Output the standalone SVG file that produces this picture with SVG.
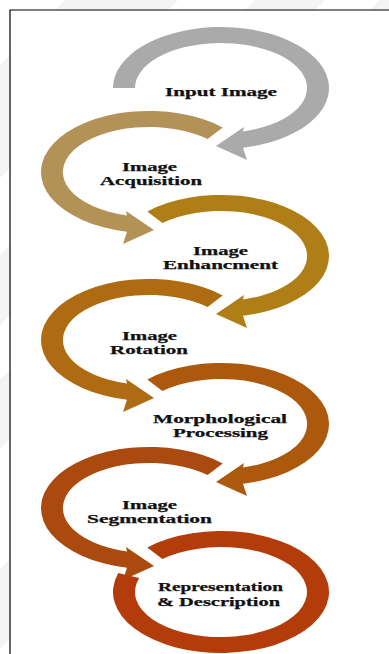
<svg xmlns="http://www.w3.org/2000/svg" xmlns:xlink="http://www.w3.org/1999/xlink" width="389" height="654" viewBox="0 0 389 654">
  <style>
    .lbl { font-family: "Liberation Serif", "Times New Roman", serif; font-weight: bold; font-size: 12.5px; fill: #111; stroke: #111; stroke-width: 0.25; }
    .frame { fill: none; stroke: #000; stroke-width: 1.2; }
    .wm { fill: #f4f4f4; }
    .c0 { fill: #aaaaaa; }
    .c1 { fill: #b39257; }
    .c2 { fill: #b07e16; }
    .c3 { fill: #ae6b12; }
    .c4 { fill: #ac590e; }
    .c5 { fill: #ab4a0e; }
    .c6 { fill: #b33c0a; }
  </style>
  <defs>
    <!-- ring arrow drawn around (0,0): outer ellipse 108x61, inner 86x45, head at the bottom pointing left -->
    <path id="ringHead" d="M -73.7,-44.6 A 108 61 0 1 1 22,59.7 L 26,72 L -5,58 L 23,39 L 22,43.5 A 86 45 0 1 0 -58.6,-32.9 Z"/>
    <!-- first ring: tail cut level on the left side -->
    <path id="ringFirst" d="M -108,0 A 108 61 0 1 1 22,59.7 L 26,72 L -5,58 L 23,39 L 22,43.5 A 86 45 0 1 0 -86,0 Z"/>
    <!-- last ring: no head, closes almost fully -->
    <path id="ringLast" d="M -73.7,-44.6 A 108 61 0 1 1 -102.7,-18.9 L -81.8,-13.9 A 86 45 0 1 0 -58.6,-32.9 Z"/>
  </defs>

  <rect width="389" height="654" fill="#fff"/>

  <!-- faint page watermark in the margins -->
  <g id="watermark">
    <polygon class="wm" points="65,0 178,0 0,178 0,65"/>
    <polygon class="wm" points="255,0 325,0 0,325 0,255"/>
    <polygon class="wm" points="380,0 389,0 389,60 0,449 0,380"/>
    <polygon class="wm" points="389,180 389,260 0,649 0,569"/>
    <rect x="10.6" y="10.6" width="379" height="644" fill="#fff"/>
  </g>

  <path class="frame" d="M 389,10 H 10 V 654"/>

  <g id="connectors">
    <use xlink:href="#ringFirst" class="c0" transform="translate(221,88)"/>
    <use xlink:href="#ringHead" class="c1" transform="translate(149,172) scale(-1,1)"/>
    <use xlink:href="#ringHead" class="c2" transform="translate(221,256)"/>
    <use xlink:href="#ringHead" class="c3" transform="translate(149,340) scale(-1,1)"/>
    <use xlink:href="#ringHead" class="c4" transform="translate(221,424)"/>
    <use xlink:href="#ringHead" class="c5" transform="translate(149,508) scale(-1,1)"/>
    <use xlink:href="#ringLast" class="c6" transform="translate(221,592)"/>
  </g>

  <g id="input-image">
    <text class="lbl" x="165" y="96" textLength="112" lengthAdjust="spacingAndGlyphs">Input Image</text>
  </g>
  <g id="image-acquisition">
    <text class="lbl" x="122" y="170.5" textLength="55" lengthAdjust="spacingAndGlyphs">Image</text>
    <text class="lbl" x="100" y="184.5" textLength="102" lengthAdjust="spacingAndGlyphs">Acquisition</text>
  </g>
  <g id="image-enhancement">
    <text class="lbl" x="193" y="255" textLength="55" lengthAdjust="spacingAndGlyphs">Image</text>
    <text class="lbl" x="163" y="269" textLength="115" lengthAdjust="spacingAndGlyphs">Enhancment</text>
  </g>
  <g id="image-rotation">
    <text class="lbl" x="122" y="339.5" textLength="55" lengthAdjust="spacingAndGlyphs">Image</text>
    <text class="lbl" x="110" y="353.5" textLength="78" lengthAdjust="spacingAndGlyphs">Rotation</text>
  </g>
  <g id="morphological-processing">
    <text class="lbl" x="153" y="422.5" textLength="134" lengthAdjust="spacingAndGlyphs">Morphological</text>
    <text class="lbl" x="173" y="436.5" textLength="95" lengthAdjust="spacingAndGlyphs">Processing</text>
  </g>
  <g id="image-segmentation">
    <text class="lbl" x="122" y="508.5" textLength="55" lengthAdjust="spacingAndGlyphs">Image</text>
    <text class="lbl" x="87" y="522.5" textLength="125" lengthAdjust="spacingAndGlyphs">Segmentation</text>
  </g>
  <g id="representation-description">
    <text class="lbl" x="158" y="591" textLength="125" lengthAdjust="spacingAndGlyphs">Representation</text>
    <text class="lbl" x="157" y="606" textLength="123" lengthAdjust="spacingAndGlyphs">&amp; Description</text>
  </g>
</svg>
